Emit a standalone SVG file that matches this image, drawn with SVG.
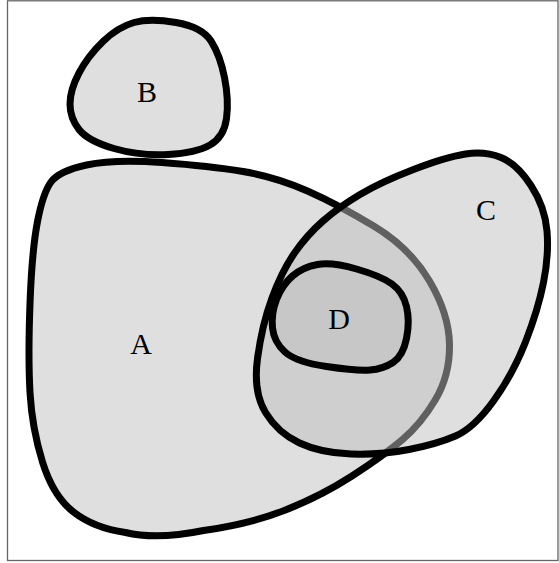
<svg xmlns="http://www.w3.org/2000/svg" width="559" height="563" viewBox="0 0 559 563">
<style>
.blob{fill:#bfbfbf;fill-opacity:0.5;stroke:#000;stroke-width:7;stroke-linejoin:round}
.lbl{font-family:"Liberation Serif","DejaVu Serif",serif;font-size:30px;fill:#000;text-anchor:middle}
</style>
<rect x="7.5" y="0.8" width="550.5" height="559.7" fill="#fff" stroke="#666" stroke-width="1.3"/>
<g id="A">
<path class="blob" d="M86.5,165 Q114,159 162,162.5 Q210,166 243,171.5 Q276,177 307.5,191 Q339,205 374.5,226.5 Q410,248 429.5,281 Q449,314 449.5,344.5 Q450,375 435.5,399.5 Q421,424 402,440 Q383,456 352,476 Q321,496 285.5,510 Q250,524 203.5,530.5 Q157,540 125.5,532.5 Q94,528 73.5,512 Q53,496 42.5,462 Q32,428 30,392.5 Q28,357 30,303.5 Q32,250 37.5,221.5 Q43,193 51,182 Q59,171 86.5,165 Z"/>
<text class="lbl" x="141" y="354">A</text>
</g>
<g id="B">
<path class="blob" d="M134,22.5 Q150,18 176,22.5 Q202,27 211,41 Q220,55 224.5,77.5 Q229,100 226.5,118.5 Q224,137 210,145 Q196,153 168,154.5 Q140,156 114,148.5 Q88,141 79,129.5 Q70,118 70,104 Q70,90 79,73 Q88,56 103,41.5 Q118,27 134,22.5 Z"/>
<text class="lbl" x="147" y="102">B</text>
</g>
<g id="C">
<path class="blob" d="M465.5,154 Q485,151 501,157.5 Q517,164 531,185.5 Q545,207 547,231 Q549,255 543.5,282.5 Q538,310 525.5,342 Q513,374 493.5,401 Q474,428 455.5,436 Q437,444 409,449.5 Q381,455 351,454 Q321,453 299.5,443 Q278,433 265.5,412.5 Q253,392 257.5,358.5 Q262,325 272,298 Q282,271 294.5,253 Q307,235 323,221 Q339,207 360,194.5 Q381,182 413.5,169.5 Q446,157 465.5,154 Z"/>
<text class="lbl" x="486" y="220">C</text>
</g>
<g id="D">
<path class="blob" d="M317.5,264.5 Q332,262 356.5,269 Q381,276 392,284 Q403,292 406.5,306.5 Q410,321 406.5,338.5 Q403,356 393,362.5 Q383,369 370,370 Q357,371 326.5,366.5 Q296,362 285,352 Q274,342 272.5,328 Q271,314 276.5,299.5 Q282,285 292.5,276 Q303,267 317.5,264.5 Z"/>
<text class="lbl" x="339" y="329">D</text>
</g>
<g id="connectors"/>
</svg>
